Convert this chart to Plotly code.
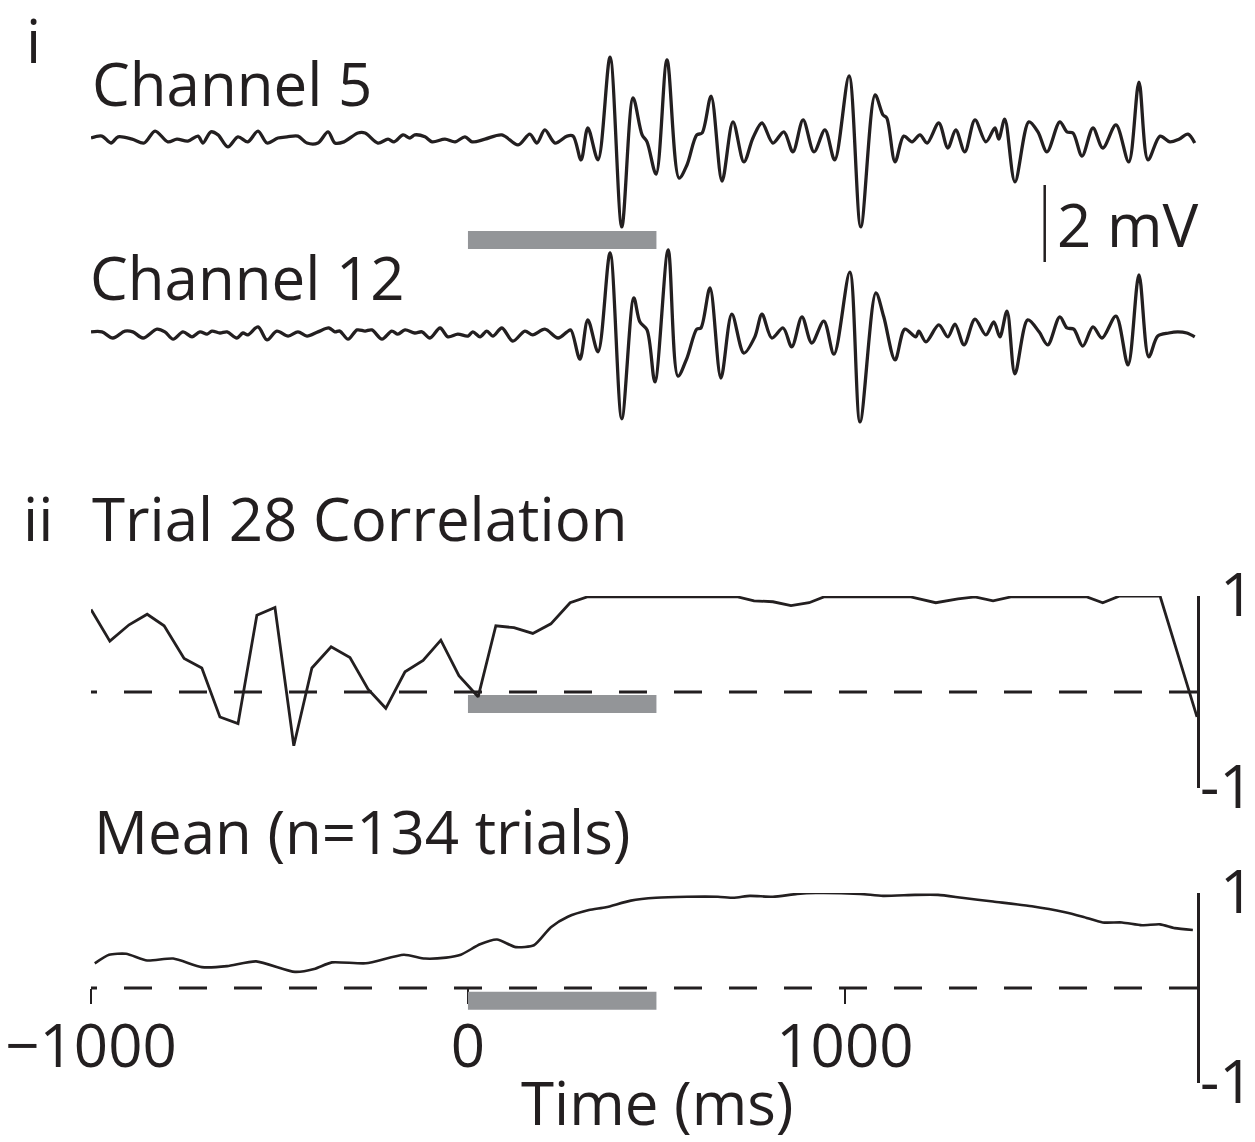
import plotly.graph_objects as go

# ---------------- data ----------------
# Channel 5 trace (time in ms, potential in mV)
ch5_t = [-1000, -971, -947, -928, -891, -859, -830, -796, -772, -743, -716, -703, -682, -663, -637,
         -610, -584, -557, -533, -504, -480, -451, -427, -398, -371, -353, -329, -292, -273, -239,
         -212, -196, -172, -154, -141, -114, -95, -61, -34, -8, 11, 45, 90, 133, 164, 183, 204, 231,
         263, 279, 300, 318, 345, 377, 408, 438, 462, 475, 499, 528, 560, 581, 607, 621, 645, 674,
         703, 732, 756, 780, 809, 838, 862, 889, 918, 947, 973, 1011, 1042, 1080, 1101, 1111, 1133,
         1156, 1178, 1199, 1218, 1249, 1273, 1294, 1318, 1345, 1374, 1398, 1408, 1424, 1451, 1488,
         1512, 1536, 1570, 1589, 1605, 1629, 1658, 1684, 1719, 1753, 1780, 1804, 1836, 1862, 1886,
         1910, 1928]
ch5_mv = [0, 0.05, -0.13, 0.03, -0.03, -0.13, 0.18, -0.10, -0.03, -0.08, 0.05, -0.13, 0.16, 0.08,
          -0.23, 0.03, -0.10, 0.18, -0.13, 0, 0.03, 0.05, -0.13, -0.13, 0.16, -0.13, -0.10, 0.13,
          0.13, -0.13, -0.03, -0.10, 0.08, 0, 0.08, 0.03, -0.10, -0.03, -0.10, 0.03, -0.10, -0.03,
          0.08, -0.18, 0.10, -0.13, 0.21, -0.13, 0.05, 0.05, -0.57, 0.26, -0.57, 2.10, -2.31, 1.04,
          0.08, -0.10, -0.94, 2.03, -1.04, -0.70, 0.08, 0.13, 1.09, -1.12, 0.42, -0.62, 0, 0.39,
          -0.13, 0.16, -0.36, 0.47, -0.36, 0.21, -0.57, 1.61, -2.31, 1.12, 0.60, 0.52, -0.62, 0.05,
          -0.10, 0.08, -0.13, 0.39, -0.26, 0.21, -0.36, 0.47, -0.10, 0.26, -0.03, 0.49, -1.14, 0.42,
          0.16, -0.36, 0.42, 0.16, 0.13, -0.47, 0.26, -0.26, 0.34, -0.62, 1.45, -0.57, 0.05, -0.10,
          -0.03, 0.10, -0.13]

# Channel 12 trace
ch12_t = [-1000, -971, -942, -910, -889, -862, -825, -804, -782, -756, -732, -711, -692, -679, -658,
          -639, -613, -597, -584, -557, -533, -507, -477, -451, -427, -398, -369, -353, -340, -318,
          -294, -273, -255, -228, -202, -186, -167, -141, -122, -101, -74, -53, -27, 0, 13, 32, 50,
          66, 90, 119, 151, 172, 204, 239, 263, 273, 297, 318, 345, 377, 408, 440, 456, 475, 496,
          531, 557, 581, 607, 618, 642, 671, 700, 732, 761, 780, 806, 836, 859, 886, 912, 944, 971,
          1013, 1040, 1082, 1103, 1133, 1159, 1188, 1196, 1215, 1249, 1273, 1292, 1316, 1345, 1374,
          1395, 1411, 1430, 1451, 1485, 1515, 1538, 1570, 1589, 1607, 1631, 1658, 1682, 1719, 1751,
          1780, 1806, 1830, 1859, 1883, 1907, 1928]
ch12_mv = [0.03, 0.03, -0.13, 0.05, 0.03, -0.13, 0.10, 0.03, -0.16, 0.03, -0.10, 0.03, -0.03, 0.05,
           0, 0.03, -0.13, 0, -0.05, 0.16, -0.18, 0.05, -0.08, 0.03, -0.08, 0.03, 0.13, 0.03, 0.05,
           -0.16, 0.08, 0.05, 0.08, -0.16, 0.05, -0.03, 0.08, 0, 0.03, -0.13, 0.13, -0.10, -0.03,
           -0.08, 0.03, -0.10, 0.05, -0.08, 0.13, -0.21, 0.05, -0.05, 0.10, -0.13, 0.03, 0.08, -0.68,
           0.34, -0.49, 2.08, -2.23, 0.91, 0.29, 0.08, -1.27, 2.16, -1.12, -0.65, 0.10, 0.13, 1.17,
           -1.17, 0.49, -0.52, -0.10, 0.49, -0.13, 0.13, -0.36, 0.42, -0.26, 0.31, -0.55, 1.58,
           -2.31, 1.04, 0.42, -0.70, 0.10, -0.10, 0.05, -0.23, 0.21, -0.10, 0.23, -0.31, 0.36,
           -0.05, 0.29, -0.10, 0.57, -1.06, 0.34, 0.03, -0.31, 0.42, 0.13, 0.10, -0.34, 0.16, -0.13,
           0.44, -0.83, 1.51, -0.62, -0.08, 0, 0.03, 0, -0.10]

# Trial 28 correlation
trial_t = [-1000, -950, -899, -851, -806, -753, -706, -658, -610, -560, -512, -462, -414, -363,
           -313, -265, -218, -167, -119, -72, -24, 27, 74, 122, 172, 220, 271, 316, 716, 759, 809,
           857, 905, 944, 1175, 1241, 1300, 1345, 1393, 1440, 1642, 1684, 1729, 1836, 1934]
trial_r = [0.86, 0.53, 0.70, 0.81, 0.69, 0.35, 0.25, -0.26, -0.33, 0.80, 0.88, -0.56, 0.25, 0.47,
           0.36, 0.03, -0.17, 0.21, 0.33, 0.54, 0.17, -0.05, 0.69, 0.67, 0.61, 0.71, 0.93, 0.99,
           0.99, 0.95, 0.94, 0.90, 0.93, 0.99, 0.99, 0.93, 0.97, 0.99, 0.95, 0.99, 0.99, 0.93, 1.0,
           1.0, -0.26]

# Mean correlation (n = 134 trials)
mean_t = [-990, -952, -907, -851, -782, -706, -639, -562, -459, -408, -361, -271, -170, -114, -58,
          -19, 32, 77, 127, 175, 220, 265, 321, 366, 432, 499, 581, 663, 706, 748, 809, 873, 923,
          1040, 1101, 1186, 1247, 1310, 1393, 1496, 1581, 1631, 1684, 1735, 1788, 1836, 1875, 1923]
mean_r = [0.26, 0.35, 0.36, 0.29, 0.31, 0.22, 0.23, 0.28, 0.17, 0.20, 0.27, 0.26, 0.35, 0.31, 0.32,
          0.35, 0.46, 0.51, 0.43, 0.45, 0.64, 0.75, 0.82, 0.85, 0.92, 0.95, 0.96, 0.96, 0.95, 0.97,
          0.96, 0.99, 1.0, 0.99, 0.97, 0.98, 0.98, 0.95, 0.91, 0.86, 0.80, 0.75, 0.69, 0.69, 0.66,
          0.67, 0.63, 0.61]

stim_window = [0, 500]          # ms, grey bars
x_range = [-1000, 1934]         # ms
x_ticks = [-1000, 0, 1000]
x_tick_labels = ["\u22121000", "0", "1000"]
r_ticks = [-1, 1]
r_tick_labels = ["-1", "1"]
scale_bar_mv = 2

# ---------------- styling / layout helpers ----------------
W, H = 1255, 1142
INK = "#231f20"
GREY = "#939598"
FONT = "Open Sans"
FS = 60


def px(p):
    return p / W


def py(p):
    return 1 - p / H


PX_PER_MV = 38.5
CH12_BASE = 333
CH5_BASE = 138
ch5_offset = (CH12_BASE - CH5_BASE) / PX_PER_MV
top_px = (40, 445)
y1_range = [(CH12_BASE - top_px[1]) / PX_PER_MV, (CH12_BASE - top_px[0]) / PX_PER_MV]

# pixel extents of the two correlation panels (value +1 at top, -1 at bottom)
trial_px = (596, 788)
mean_px = (893, 1083)


def mv_at(p):
    return (CH12_BASE - p) / PX_PER_MV


fig = go.Figure()

fig.add_trace(go.Scatter(x=ch5_t, y=[v + ch5_offset for v in ch5_mv], mode="lines",
                         line=dict(color=INK, width=3.3, shape="spline", smoothing=0.9),
                         xaxis="x", yaxis="y", hoverinfo="skip"))
fig.add_trace(go.Scatter(x=ch12_t, y=ch12_mv, mode="lines",
                         line=dict(color=INK, width=3.3, shape="spline", smoothing=0.9),
                         xaxis="x", yaxis="y", hoverinfo="skip"))

# zero (dashed) reference lines
dash_start = x_range[0] - 22 / 0.37696
for ya in ["y2", "y3"]:
    fig.add_trace(go.Scatter(x=[dash_start, x_range[1]], y=[0, 0], mode="lines",
                             line=dict(color=INK, width=3.2, dash="28px,27px"),
                             xaxis="x", yaxis=ya, hoverinfo="skip"))

fig.add_trace(go.Scatter(x=trial_t, y=trial_r, mode="lines",
                         line=dict(color=INK, width=2.8),
                         xaxis="x", yaxis="y2", hoverinfo="skip"))
fig.add_trace(go.Scatter(x=mean_t, y=mean_r, mode="lines",
                         line=dict(color=INK, width=2.6, shape="spline", smoothing=0.6),
                         xaxis="x", yaxis="y3", hoverinfo="skip"))

shapes = [
    dict(type="rect", xref="x", yref="y", x0=stim_window[0], x1=stim_window[1],
         y0=mv_at(249), y1=mv_at(231), fillcolor=GREY, line=dict(width=0), layer="below"),
    dict(type="rect", xref="x", yref="y2", x0=stim_window[0], x1=stim_window[1],
         y0=-0.22, y1=-0.03, fillcolor=GREY, line=dict(width=0), layer="below"),
    dict(type="rect", xref="x", yref="y3", x0=stim_window[0], x1=stim_window[1],
         y0=-0.23, y1=-0.04, fillcolor=GREY, line=dict(width=0), layer="below"),
    dict(type="line", xref="x", yref="y", x0=1530, x1=1530,
         y0=mv_at(262), y1=mv_at(262) + scale_bar_mv, line=dict(color=INK, width=2.5)),
]


def label(text, x, y, anchor="left"):
    return dict(text=text, x=px(x), y=py(y), xref="paper", yref="paper", xanchor=anchor,
                yanchor="middle", showarrow=False, borderpad=0,
                font=dict(family=FONT, size=FS, color=INK))


annotations = [
    label("i", 25, 40),
    label("Channel 5", 91, 83),
    label(f"{scale_bar_mv} mV", 1056, 224),
    label("Channel 12", 89, 277),
    label("ii", 22, 518),
    label("Trial 28 Correlation", 91, 518),
    label("Mean (n=134 trials)", 93, 831),
    label("Time (ms)", 657, 1102, anchor="center"),
]

# right-hand correlation axis labels (+1 / -1), placed beside each panel's axis line
for top, bot in (trial_px, mean_px):
    for val, txt in zip(r_ticks, r_tick_labels):
        ypx = top + (1 - val) / 2 * (bot - top) - 3
        annotations.append(label(txt, 1255, ypx, anchor="right"))

raxis = dict(anchor="x", side="right", range=[-1, 1], showline=True, linecolor=INK,
             linewidth=2.5, showgrid=False, zeroline=False, ticks="", showticklabels=False,
             automargin=False, fixedrange=True)

fig.update_layout(
    template="none",
    width=W, height=H, margin=dict(l=0, r=0, t=0, b=0, pad=0, autoexpand=False),
    paper_bgcolor="white", plot_bgcolor="white", showlegend=False,
    xaxis=dict(domain=[px(91), px(1197)], range=x_range, anchor="free", position=py(988),
               showline=False, showgrid=False, zeroline=False, ticks="outside", ticklen=15,
               tickwidth=2.5, tickcolor=INK, tickvals=x_ticks, ticktext=x_tick_labels,
               tickfont=dict(family=FONT, size=FS, color=INK), ticklabelstandoff=-9,
               automargin=False, fixedrange=True),
    yaxis=dict(domain=[py(top_px[1]), py(top_px[0])], range=y1_range, visible=False,
               anchor="x", automargin=False, fixedrange=True),
    yaxis2=dict(domain=[py(trial_px[1]), py(trial_px[0])], **raxis),
    yaxis3=dict(domain=[py(mean_px[1]), py(mean_px[0])], **raxis),
    shapes=shapes, annotations=annotations,
)

fig.write_html("out.html", config={"displayModeBar": False, "staticPlot": True},
               post_script="document.body.style.margin='0px';document.body.style.overflow='hidden';")
